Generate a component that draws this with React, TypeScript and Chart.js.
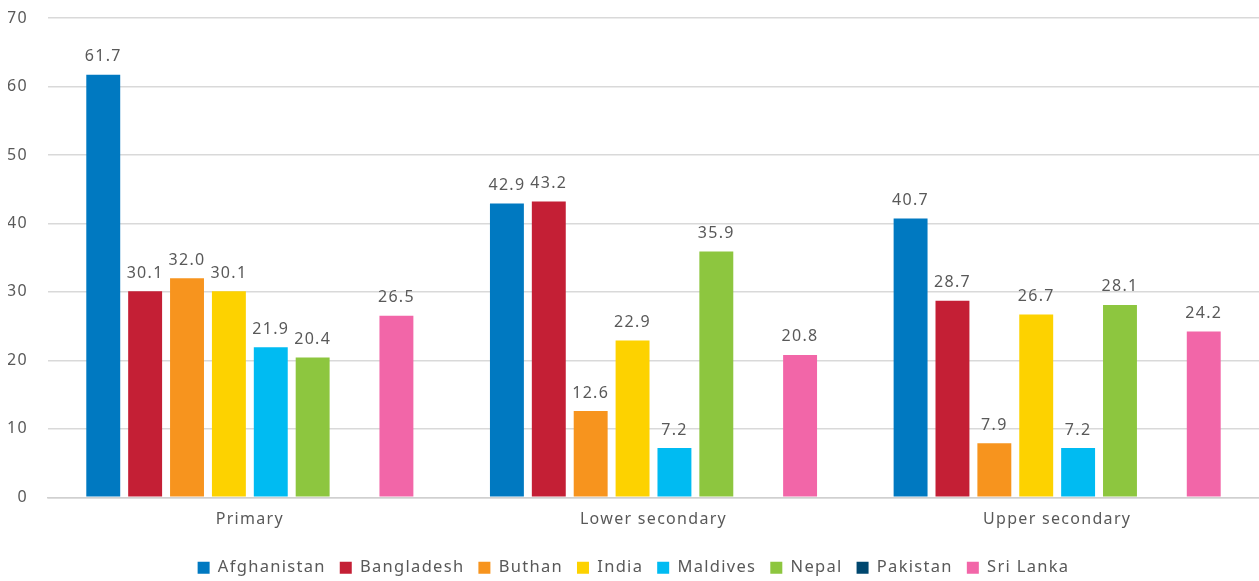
import React, { useEffect, useRef } from "react";
import { Chart, registerables } from "chart.js";

Chart.register(...registerables);

const categories = ["Primary", "Lower secondary", "Upper secondary"];
const seriesNames = ["Afghanistan", "Bangladesh", "Buthan", "India", "Maldives", "Nepal", "Pakistan", "Sri Lanka"];
const afghanistan = [61.7, 42.9, 40.7];
const bangladesh = [30.1, 43.2, 28.7];
const buthan = [32.0, 12.6, 7.9];
const india = [30.1, 22.9, 26.7];
const maldives = [21.9, 7.2, 7.2];
const nepal = [20.4, 35.9, 28.1];
const pakistan: (number | null)[] = [null, null, null];
const sriLanka = [26.5, 20.8, 24.2];
const seriesValues = [afghanistan, bangladesh, buthan, india, maldives, nepal, pakistan, sriLanka];
const seriesColors = ["#0079C1", "#C41F35", "#F7941E", "#FDD200", "#00BBF2", "#8DC63F", "#00476F", "#F266A8"];
const yTicks = [0, 10, 20, 30, 40, 50, 60, 70];

const FONT = "'Noto Sans', 'Open Sans', sans-serif";
const SPACING = "1.3px";
const W = 1259;
const H = 586;

const spacingPlugin = {
  id: "letterSpacing",
  beforeUpdate(chart: any) {
    chart.ctx.letterSpacing = SPACING;
  },
  beforeDraw(chart: any) {
    chart.ctx.letterSpacing = SPACING;
  },
};

const labelPlugin = {
  id: "barLabels",
  afterDatasetsDraw(chart: any) {
    const ctx = chart.ctx;
    ctx.save();
    ctx.letterSpacing = SPACING;
    ctx.font = `16px ${FONT}`;
    ctx.fillStyle = "#595959";
    ctx.textAlign = "center";
    ctx.textBaseline = "bottom";
    chart.data.datasets.forEach((ds: any, i: number) => {
      const meta = chart.getDatasetMeta(i);
      meta.data.forEach((el: any, j: number) => {
        const v = ds.data[j];
        if (v === null || v === undefined) return;
        ctx.fillText(v.toFixed(1), el.x, el.y - 10);
      });
    });
    ctx.restore();
  },
};

export default function App() {
  const ref = useRef<HTMLCanvasElement>(null);
  useEffect(() => {
    document.body.style.margin = "0";
    const chart = new Chart(ref.current!, {
      type: "bar",
      data: {
        labels: categories,
        datasets: seriesNames.map((name, i) => ({
          label: name,
          data: seriesValues[i],
          backgroundColor: seriesColors[i],
          borderWidth: 0,
          categoryPercentage: 0.83,
          barPercentage: 0.81,
        })),
      },
      options: {
        animation: false,
        responsive: false,
        maintainAspectRatio: false,
        layout: { padding: { top: 18, right: 0, left: 8, bottom: 0 } },
        plugins: {
          legend: {
            position: "bottom",
            labels: {
              font: { family: FONT, size: 16.5 },
              color: "#595959",
              boxWidth: 12,
              boxHeight: 12,
              padding: 14,
            },
          },
          tooltip: { enabled: false },
        },
        scales: {
          x: {
            grid: { display: false, drawTicks: false },
            border: { display: true, color: "#d0d0d0", width: 1.5 },
            ticks: { font: { family: FONT, size: 16 }, color: "#595959", padding: 13 },
            afterFit: (scale: any) => {
              scale.height += 3;
              scale.paddingTop = 0;
              scale.paddingLeft = 0;
              scale.paddingRight = 0;
            },
          },
          y: {
            min: 0,
            max: 70,
            afterBuildTicks: (scale: any) => {
              scale.ticks = yTicks.map((v) => ({ value: v }));
            },
            afterFit: (scale: any) => {
              scale.width = 40;
              scale.paddingTop = 0;
              scale.paddingBottom = 0;
            },
            grid: { color: "#d9d9d9", lineWidth: 1.5, drawTicks: false },
            border: { display: false },
            ticks: { font: { family: FONT, size: 16 }, color: "#595959", padding: 20 },
          },
        },
      },
      plugins: [spacingPlugin, labelPlugin],
    });
    return () => chart.destroy();
  }, []);
  return (
    <div style={{ width: W, height: 581, overflow: "hidden" }}>
      <canvas ref={ref} width={W} height={H} style={{ display: "block", width: W, height: H }} />
    </div>
  );
}
